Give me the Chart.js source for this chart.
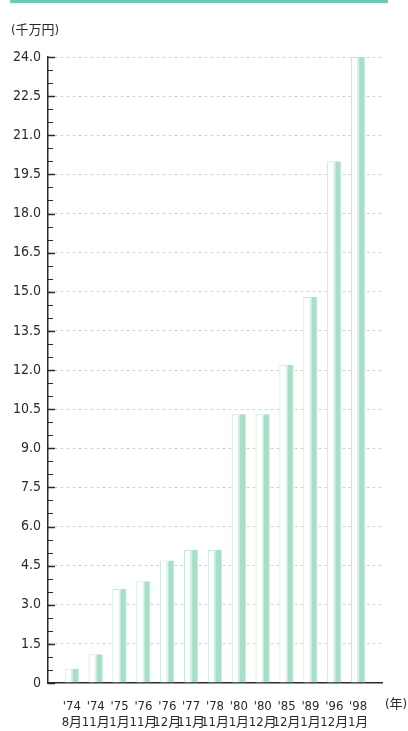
<!DOCTYPE html>
<html>
<head>
<meta charset="utf-8">
<script src="https://cdn.jsdelivr.net/npm/chart.js@4.4.1/dist/chart.umd.min.js"></script>
<style>
  body { margin: 0; background: #fff; }
  #wrap { position: relative; width: 408px; height: 731px; }
  #topline { position: absolute; left: 10px; top: 0; width: 378px; height: 3px; background: #6ccab6; }
</style>
</head>
<body>
<div id="wrap">
  <div id="topline"></div>
  <canvas id="chart" width="408" height="731"></canvas>
</div>
<script>
// data
const years = ["'74", "'74", "'75", "'76", "'76", "'77", "'78", "'80", "'80", "'85", "'89", "'96", "'98"];
const months = ["8月", "11月", "1月", "11月", "12月", "11月", "11月", "1月", "12月", "12月", "1月", "12月", "1月"];
const amounts = [0.55, 1.1, 3.6, 3.9, 4.7, 5.1, 5.1, 10.3, 10.3, 12.2, 14.8, 20.0, 24.0];
const yMax = 24;
const yMinorStep = 0.5;
const yMajorStep = 1.5;

const FONT = "'Liberation Sans Narrow', 'DejaVu Sans Condensed', 'Noto Sans CJK JP', sans-serif";
const AXIS = "#2a2a2a";

const points = amounts.map((v, i) => ({ x: i, y: v }));
const isMajor = v => Math.abs(v / yMajorStep - Math.round(v / yMajorStep)) < 1e-6;

// short tick marks pointing into the plot, plus unit captions
const decor = {
  id: "decor",
  afterDraw(chart) {
    const { ctx, chartArea, scales } = chart;
    const y = scales.y;
    ctx.save();
    ctx.strokeStyle = AXIS;
    y.ticks.forEach(t => {
      const py = Math.round(y.getPixelForValue(t.value)) + 0.5;
      const major = isMajor(t.value);
      ctx.lineWidth = major ? 1.5 : 1;
      ctx.beginPath();
      ctx.moveTo(chartArea.left, py);
      ctx.lineTo(chartArea.left + (major ? 7 : 5), py);
      ctx.stroke();
    });
    ctx.fillStyle = AXIS;
    ctx.font = "13px " + FONT;
    ctx.textBaseline = "middle";
    ctx.textAlign = "left";
    ctx.fillText("(千万円)", 11, 31);
    ctx.fillText("(年)", 385, 705);
    ctx.restore();
  }
};

new Chart(document.getElementById("chart"), {
  type: "bar",
  data: {
    datasets: [
      {
        data: points,
        backgroundColor: "#ffffff",
        borderColor: "#c2eadb",
        borderWidth: 1
      },
      {
        data: points,
        backgroundColor: "#a6dfc6",
        borderColor: "#c8eede",
        borderWidth: { left: 1, right: 1, top: 0, bottom: 0 }
      }
    ]
  },
  options: {
    responsive: false,
    animation: false,
    categoryPercentage: 0.6,
    barPercentage: 1,
    layout: { padding: { top: 57, left: 0, right: 26, bottom: 0 } },
    plugins: {
      legend: { display: false },
      tooltip: { enabled: false }
    },
    scales: {
      x: {
        type: "linear",
        min: -1,
        max: 13,
        offset: false,
        afterBuildTicks: scale => {
          scale.ticks = years.map((_, i) => ({ value: i }));
        },
        afterFit: scale => { scale.height = 48; },
        ticks: {
          autoSkip: false,
          maxRotation: 0,
          padding: 15,
          color: AXIS,
          font: { family: FONT, size: 13, lineHeight: 1.25 },
          callback: v => [years[v], months[v]]
        },
        grid: { display: false, drawTicks: false },
        border: { color: AXIS, width: 1.5 }
      },
      y: {
        min: 0,
        max: yMax,
        afterFit: scale => { scale.width = 48; },
        ticks: {
          stepSize: yMinorStep,
          autoSkip: false,
          padding: 7,
          color: AXIS,
          font: { family: FONT, size: 14 },
          callback: v => isMajor(v) ? (v === 0 ? "0" : v.toFixed(1)) : ""
        },
        grid: {
          drawTicks: false,
          color: ctx => (ctx.tick && isMajor(ctx.tick.value) && ctx.tick.value !== 0) ? "#d2d2d2" : "rgba(0,0,0,0)"
        },
        border: { color: AXIS, width: 1.5, dash: [3, 3] }
      }
    }
  },
  plugins: [decor]
});
</script>
</body>
</html>
